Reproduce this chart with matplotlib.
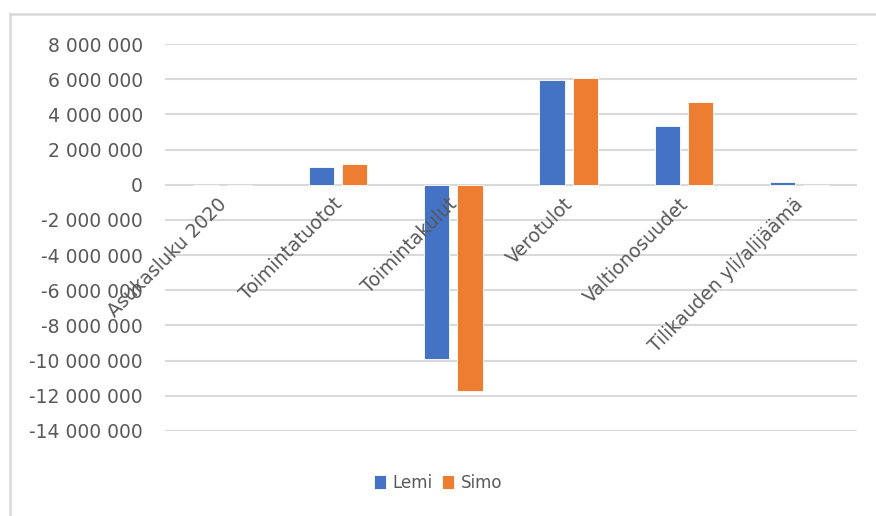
import matplotlib

matplotlib.use("Agg")
import matplotlib.pyplot as plt
import numpy as np
from matplotlib.lines import Line2D
from matplotlib.transforms import offset_copy

categories = ["Asukasluku 2020", "Toimintatuotot", "Toimintakulut", "Verotulot",
              "Valtionosuudet", "Tilikauden yli/alijäämä"]
lemi = [3000, 1000000, -9900000, 5950000, 3320000, 170000]
simo = [2900, 1150000, -11700000, 6080000, 4700000, -20000]
series = ["Lemi", "Simo"]
yticks = np.arange(-14000000, 8000001, 2000000)

BLUE = "#4472C4"
ORANGE = "#ED7D31"
GREY = "#595959"
GRID = "#D9D9D9"

plt.rcParams["font.family"] = ["DejaVu Sans"]

fig = plt.figure(figsize=(8.76, 5.16), dpi=100)
ax = fig.add_axes([165 / 876, 1 - 431 / 516, (857 - 165) / 876, (431 - 44) / 516])

x = np.arange(len(categories))
w = 0.22
ax.bar(x - 0.145, lemi, w, color=BLUE, edgecolor="white", linewidth=0.6, label=series[0], zorder=3)
ax.bar(x + 0.145, simo, w, color=ORANGE, edgecolor="white", linewidth=0.6, label=series[1], zorder=3)

ax.set_xlim(-0.5, len(categories) - 0.5)
ax.set_ylim(yticks[0], yticks[-1])
ax.set_yticks(yticks)
ax.set_yticklabels([f"{v:,}".replace(",", " ") for v in yticks], color=GREY, fontsize=13.5)
ax.yaxis.grid(True, color=GRID, linewidth=1.5, zorder=0)
ax.tick_params(axis="y", length=0, pad=16)
ax.set_xticks([])
for s in ax.spines.values():
    s.set_visible(False)

# category labels next to the zero line, drawn over the bars
lab_tr = offset_copy(ax.transData, fig=fig, x=-4, y=-7, units="points")
for i, c in enumerate(categories):
    ax.text(i, 0, c, transform=lab_tr, rotation=45, ha="right", va="top",
            rotation_mode="anchor", color=GREY, fontsize=13.5, zorder=5)

# chart border (top and left edges visible)
fig.add_artist(Line2D([10 / 876, 1], [1 - 14 / 516, 1 - 14 / 516], color=GRID, lw=1.8))
fig.add_artist(Line2D([10 / 876, 10 / 876], [0, 1 - 14 / 516], color=GRID, lw=1.8))

fig.legend(loc="center", bbox_to_anchor=(438 / 876, 1 - 483 / 516), ncol=2, frameon=False,
           fontsize=12, labelcolor=GREY, handlelength=0.7, handleheight=0.9,
           handletextpad=0.4, columnspacing=0.6)

fig.savefig("out.png", dpi=100)
